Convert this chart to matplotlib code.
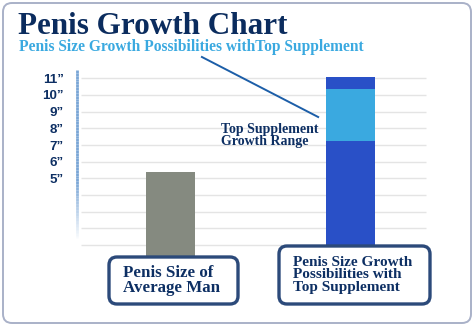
import numpy as np
import matplotlib
matplotlib.use("Agg")
import matplotlib.pyplot as plt
from matplotlib.patches import FancyBboxPatch
from matplotlib.collections import LineCollection

# ── Data ─────────────────────────────────────────────────────────────
categories = ["Penis Size of\nAverage Man",
              "Penis Size Growth\nPossibilities with\nTop Supplement"]
average_size = 5.4
supp_base = 7.25          # top of the lower dark segment
supp_range_top = 10.35    # top of the growth-range segment
supp_max = 11.1
tick_values = [5, 6, 7, 8, 9, 10, 11]
tick_labels = ["5\u201d", "6\u201d", "7\u201d", "8\u201d", "9\u201d", "10\u201d", "11\u201d"]
grid_values = list(range(1, 12))

NAVY = "#0d2f63"
BOX_EDGE = "#2c4a7a"
GRAY_BAR = "#858a80"
DARK_BLUE = "#2950c7"
LIGHT_BLUE = "#3aa9e0"
SERIF = ["Liberation Serif", "DejaVu Serif"]
SANS = ["Liberation Sans", "DejaVu Sans"]

fig = plt.figure(figsize=(4.75, 3.26), dpi=100)
fig.patch.set_facecolor("white")

# outer rounded frame (in inches, so corners stay round)
frame = FancyBboxPatch((0.03, 0.03), 4.68, 3.20,
                       boxstyle="round,pad=0,rounding_size=0.09",
                       transform=fig.dpi_scale_trans,
                       facecolor="white", edgecolor="#a9b1c8", linewidth=1.4,
                       zorder=-1)
fig.patches.append(frame)

ax = fig.add_axes([77 / 475, 0.1972, 363 / 475, 0.5881])
ax.set_xlim(-0.52, 1.497)
ax.set_ylim(0, 11.5)
ax.patch.set_alpha(0)
for s in ax.spines.values():
    s.set_visible(False)
ax.tick_params(left=False, bottom=False, labelbottom=False)

# horizontal guide lines
ax.hlines(grid_values, -0.50, 1.42, colors="#e4e4e4", linewidth=1.0, zorder=0)

# y axis line fading out towards the bottom
ys = np.linspace(11.5, 1.4, 60)
segs = [[(-0.52, ys[i]), (-0.52, ys[i + 1])] for i in range(len(ys) - 1)]
alphas = np.clip((ys[:-1] - 1.4) / 3.5, 0, 1)
cols = [(0.48, 0.65, 0.84, a) for a in alphas]
ax.add_collection(LineCollection(segs, colors=cols, linewidths=2.0,
                                 clip_on=False, zorder=1))

ax.set_yticks(tick_values)
ax.set_yticklabels(tick_labels, fontfamily=SANS, fontweight="bold",
                   fontsize=9.6, color=NAVY)
ax.tick_params(axis="y", pad=6)

# bars
w = 0.272
ax.bar(0, average_size, width=w, color=GRAY_BAR, zorder=2)
ax.bar(1, supp_base, width=w, color=DARK_BLUE, zorder=2)
ax.bar(1, supp_range_top - supp_base, bottom=supp_base, width=w,
       color=LIGHT_BLUE, zorder=2)
ax.bar(1, supp_max - supp_range_top, bottom=supp_range_top, width=w,
       color=DARK_BLUE, zorder=2)

# growth range callout
ax.plot([0.174, 0.82], [12.28, 8.68], color="#1c5ea8", linewidth=1.4,
        clip_on=False, zorder=3)
ax.text(0.28, 7.57, "Top Supplement\nGrowth Range", fontfamily=SERIF,
        fontweight="bold", fontsize=10, color=NAVY, ha="left", va="center",
        linespacing=0.98, zorder=3)

# titles
fig.text(18 / 475, 1 - 34 / 326, "Penis Growth Chart", fontfamily=SERIF,
         fontweight="bold", fontsize=22.4, color="#0b2c5e", ha="left",
         va="baseline")
fig.text(19 / 475, 1 - 51 / 326,
         "Penis Size Growth Possibilities withTop Supplement",
         fontfamily=SERIF, fontweight="bold", fontsize=11.2,
         color=LIGHT_BLUE, ha="left", va="baseline")

# category label boxes (inches from bottom-left)
boxes = [(1.09, 0.22, 1.29, 0.47), (2.79, 0.22, 1.51, 0.58)]
centers = [(1.72, 0.455), (3.53, 0.51)]
label_sizes = [12.2, 11]
label_spacing = [0.85, 0.97]
for (bx, by, bw, bh), (cx, cy), label, fs, ls in zip(
        boxes, centers, categories, label_sizes, label_spacing):
    p = FancyBboxPatch((bx, by), bw, bh,
                       boxstyle="round,pad=0,rounding_size=0.08",
                       transform=fig.dpi_scale_trans, facecolor="white",
                       edgecolor=BOX_EDGE, linewidth=2.4, zorder=5)
    fig.patches.append(p)
    fig.text(cx / 4.75, cy / 3.26, label, fontfamily=SERIF,
             fontweight="bold", fontsize=fs, color=NAVY, ha="center",
             va="center", multialignment="left", linespacing=ls,
             zorder=6)

fig.savefig("out.png", dpi=100)
